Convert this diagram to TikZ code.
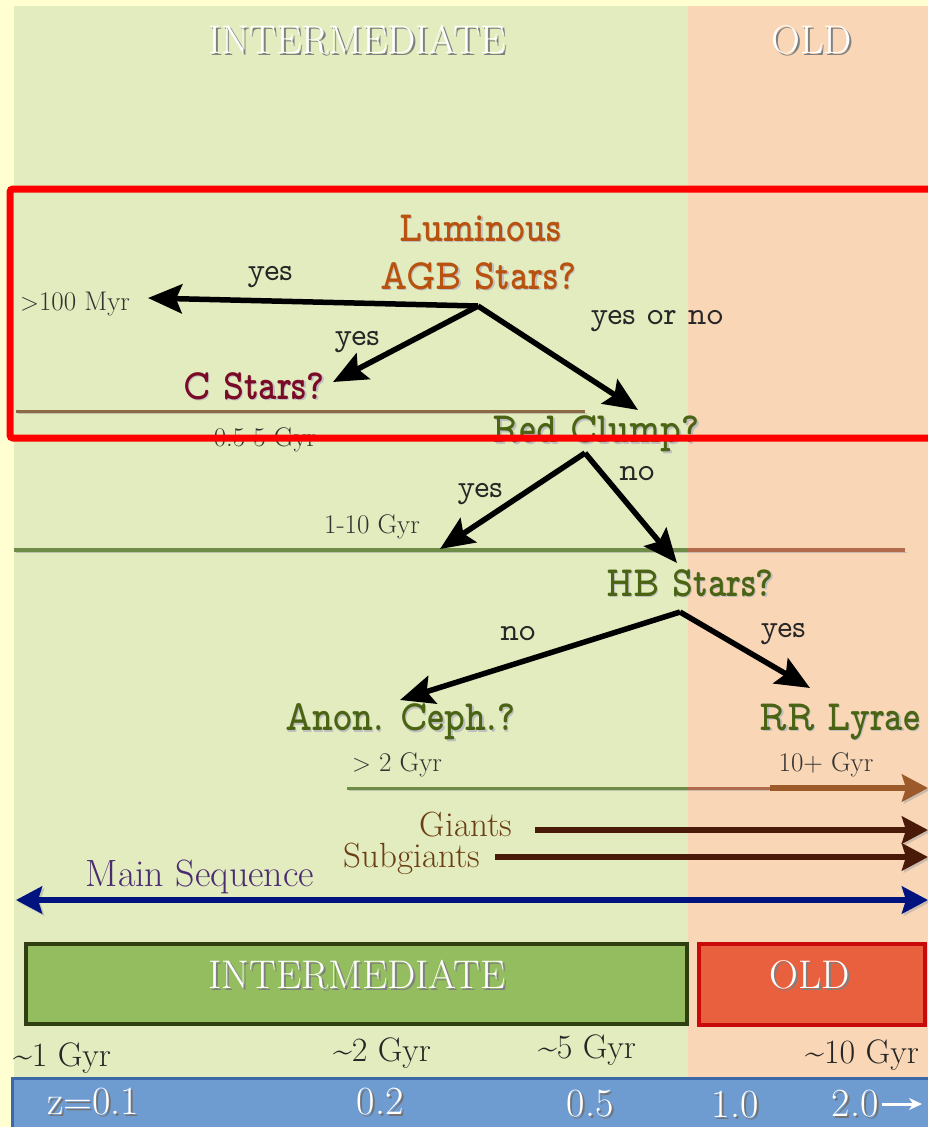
\documentclass[tikz,border=0pt]{standalone}
\usetikzlibrary{arrows.meta}

\definecolor{paper}{HTML}{FFFFD2}
\definecolor{intzone}{HTML}{E2ECBE}
\definecolor{oldzone}{HTML}{F9D6B6}
\definecolor{agbcol}{HTML}{B8520E}
\definecolor{ccol}{HTML}{7B0A26}
\definecolor{qgreen}{HTML}{4A6414}
\definecolor{lineolive}{HTML}{6E8B48}
\definecolor{linebrown}{HTML}{B06C4C}
\definecolor{cline}{HTML}{8C6A45}
\definecolor{arrowbrown}{HTML}{9C5A2A}
\definecolor{giantlab}{HTML}{6B3E14}
\definecolor{giantarr}{HTML}{4A1A08}
\definecolor{mslab}{HTML}{4B2C72}
\definecolor{msarr}{HTML}{00137F}
\definecolor{intfill}{HTML}{93BD5E}
\definecolor{intborder}{HTML}{2F3F12}
\definecolor{oldfill}{HTML}{E9603E}
\definecolor{oldborder}{HTML}{C80A0A}
\definecolor{zfill}{HTML}{6F9CD0}
\definecolor{zborder}{HTML}{3C68A8}

% slightly elongated lettering for the question labels
\newcommand{\tallq}[1]{\scalebox{1}[1.2]{#1}}

\tikzset{
  heading/.style={font=\fontsize{40}{40}\selectfont, text=white, inner sep=0pt},
  headshade/.style={heading, text=black!50},
  question/.style={font=\fontfamily{lmvtt}\fontseries{b}\fontsize{36}{36}\selectfont, inner sep=0pt},
  qshade/.style={question, text=black!25},
  answer/.style={font=\fontfamily{lmvtt}\fontsize{32}{32}\selectfont, text=black!85, inner sep=0pt},
  agelabel/.style={font=\fontsize{27}{27}\selectfont, text=black!80, inner sep=0pt},
  bigage/.style={font=\fontsize{34}{34}\selectfont, text=black!85, inner sep=0pt},
  rangelabel/.style={font=\fontsize{35}{35}\selectfont, inner sep=0pt},
  zlabel/.style={font=\fontsize{40}{40}\selectfont, text=white, inner sep=0pt},
  zshade/.style={zlabel, text=black!55},
  softshadow/.style={preaction={draw=black!35, draw opacity=0.55, fill=black!35, fill opacity=0.55,
      transform canvas={xshift=2pt, yshift=-2pt}}},
  decision/.style={line width=5.5pt, draw=black, softshadow,
      -{Stealth[length=34pt, width=29pt, inset=6pt]}},
  rangearrow/.style={line width=6pt, softshadow,
      -{Stealth[length=26pt, width=27pt, inset=4pt]}},
}

\begin{document}
\begin{tikzpicture}[x=1pt, y=-1pt]
\useasboundingbox (0,0) rectangle (928,1127);

% age zones
\fill[paper] (0,0) rectangle (928,1127);
\fill[intzone] (14,6) rectangle (688,1127);
\fill[oldzone] (688,6) rectangle (928,1127);

% zone headings
\node[headshade] (hint-sh) at (359,42) {INTERMEDIATE};
\node[heading]   (hint)    at (357,40) {INTERMEDIATE};
\node[headshade] (hold-sh) at (814,42) {OLD};
\node[heading]   (hold)    at (812,40) {OLD};

% ---- decision tree ----
\node[qshade]               (lum-sh) at (481.5,229.5) {\tallq{Luminous}};
\node[question, text=agbcol] (lum)   at (480,228) {\tallq{Luminous}};
\node[qshade]               (agb-sh) at (479.5,277.5) {\tallq{AGB Stars?}};
\node[question, text=agbcol] (agb)   at (478,276) {\tallq{AGB Stars?}};
\node[qshade]              (cst-sh) at (255.5,387.5) {\tallq{C Stars?}};
\node[question, text=ccol] (cst)    at (254,386) {\tallq{C Stars?}};
\node[qshade]                (rc-sh) at (597.5,435.5) {\tallq{Red Clump?}};
\node[question, text=qgreen] (rc)    at (596,434) {\tallq{Red Clump?}};
\node[qshade]                (hb-sh) at (691.5,584.5) {\tallq{HB Stars?}};
\node[question, text=qgreen] (hb)    at (690,583) {\tallq{HB Stars?}};
\node[qshade]                (ac-sh) at (401.5,723.5) {\tallq{Anon. Ceph.?}};
\node[question, text=qgreen] (ac)    at (400,722) {\tallq{Anon. Ceph.?}};
\node[qshade]                (rr-sh) at (841.5,723.5) {\tallq{RR Lyrae}};
\node[question, text=qgreen] (rr)    at (840,722) {\tallq{RR Lyrae}};

% branch points and arrow tips
\coordinate (agbfork) at (478,306);
\coordinate (youngtip) at (148,298);
\coordinate (ctip) at (333,382);
\coordinate (rctip) at (638,410);
\coordinate (rcfork) at (585,453);
\coordinate (rcyes) at (440,549);
\coordinate (hbtip) at (677,563);
\coordinate (hbfork) at (680,612);
\coordinate (actip) at (400,700);
\coordinate (rrtip) at (810,688);

% age range rules
\draw[cline, line width=3pt, softshadow] (16,411) -- (585,411);
\draw[lineolive, line width=4pt, softshadow] (14,550) -- (688,550);
\draw[linebrown, line width=4pt, softshadow] (688,550) -- (905,550);

% time-scale labels
\node[agelabel] (myr)  at (75,304)  {$>$100 Myr};
\node[agelabel] (cage) at (265,440) {0.5-5 Gyr};
\node[agelabel] (rcage) at (372,527) {1-10 Gyr};
\node[agelabel] (acage) at (397,765) {$>$ 2 Gyr};
\node[agelabel] (rrage) at (826,765) {10+ Gyr};

% decision arrows
\draw[decision] (agbfork) -- (youngtip);
\draw[decision] (agbfork) -- (ctip);
\draw[decision] (agbfork) -- (rctip);
\draw[decision] (rcfork) -- (rcyes);
\draw[decision] (rcfork) -- (hbtip);
\draw[decision] (hbfork) -- (actip);
\draw[decision] (hbfork) -- (rrtip);

% answers
\node[answer] (a1) at (270,277) {yes};
\node[answer] (a2) at (357,342) {yes};
\node[answer] (a3) at (657,321) {yes or no};
\node[answer] (a4) at (480,494) {yes};
\node[answer] (a5) at (637,474) {no};
\node[answer] (a6) at (518,634) {no};
\node[answer] (a7) at (783,634) {yes};

% selection frame
\draw[red, line width=7pt, rounded corners=3pt] (10,189) rectangle (934,438);

% ---- population ranges ----
\coordinate (acstart) at (347,788);
\coordinate (acmid) at (688,788);
\coordinate (acthick) at (770,788);
\coordinate (acend) at (928,788);
\draw[lineolive, line width=3pt, softshadow] (acstart) -- (acmid);
\draw[linebrown, line width=3pt, softshadow] (acmid) -- (acthick);
\draw[arrowbrown, rangearrow] (acthick) -- (acend);

\node[rangelabel, text=giantlab] (giants) at (466,825) {Giants};
\node[rangelabel, text=giantlab] (subg) at (412,859) {Subgiants};
\coordinate (gstart) at (535,830);
\coordinate (gend) at (928,830);
\coordinate (sgstart) at (495,857);
\coordinate (sgend) at (928,857);
\draw[giantarr, rangearrow] (gstart) -- (gend);
\draw[giantarr, rangearrow] (sgstart) -- (sgend);

\node[font=\fontsize{38}{38}\selectfont, text=mslab, inner sep=0pt] (ms) at (200,877) {Main Sequence};
\coordinate (msstart) at (16,900);
\coordinate (msend) at (928,900);
\draw[msarr, line width=6pt, softshadow,
  {Stealth[length=26pt, width=27pt, inset=4pt]}-{Stealth[length=26pt, width=27pt, inset=4pt]}]
  (msstart) -- (msend);

% ---- age bars ----
\node[draw=intborder, fill=intfill, line width=4pt, minimum width=661pt, minimum height=80pt,
  inner sep=0pt] (intbar) at (356.5,984) {};
\node[draw=oldborder, fill=oldfill, line width=4pt, minimum width=226pt, minimum height=81pt,
  inner sep=0pt] (oldbar) at (812,984.5) {};
\node[headshade] (bint-sh) at (359,977) {INTERMEDIATE};
\node[heading]   (bint)    at (357,975) {INTERMEDIATE};
\node[headshade] (bold-sh) at (812,977) {OLD};
\node[heading]   (bold)    at (810,975) {OLD};

% age marks
\node[bigage] (g1)  at (62,1058)  {\textasciitilde1 Gyr};
\node[bigage] (g2)  at (382,1053) {\textasciitilde2 Gyr};
\node[bigage] (g5)  at (587,1050) {\textasciitilde5 Gyr};
\node[bigage] (g10) at (862,1055) {\textasciitilde10 Gyr};

% redshift bar
\fill[zfill] (12,1078) rectangle (930,1130);
\draw[zborder, line width=3pt] (12,1130) -- (12,1078) -- (930,1078);
\node[zshade] (z1-sh) at (95,1104) {z=0.1};
\node[zlabel] (z1)    at (93,1102) {z=0.1};
\node[zshade] (z2-sh) at (382,1104) {0.2};
\node[zlabel] (z2)    at (380,1102) {0.2};
\node[zshade] (z5-sh) at (592,1106) {0.5};
\node[zlabel] (z5)    at (590,1104) {0.5};
\node[zshade] (z10-sh) at (737,1107) {1.0};
\node[zlabel] (z10)    at (735,1105) {1.0};
\node[zshade] (z20-sh) at (857,1106) {2.0};
\node[zlabel] (z20)    at (855,1104) {2.0};
\coordinate (zarrowstart) at (882,1104);
\coordinate (zarrowend) at (922,1104);
\draw[white, line width=3pt, -{Stealth[length=13pt, width=12pt]}] (zarrowstart) -- (zarrowend);
\end{tikzpicture}
\end{document}
